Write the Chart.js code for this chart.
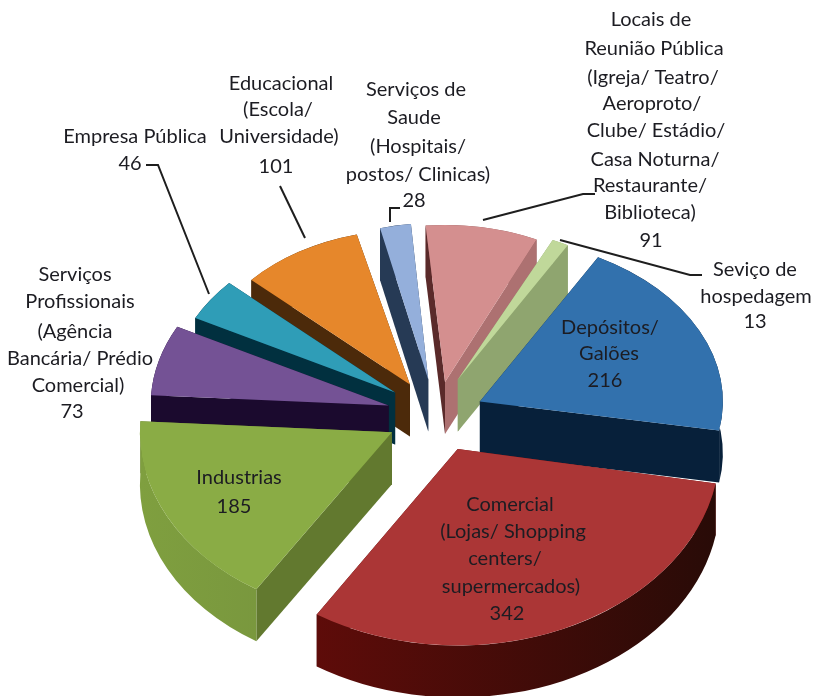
<!DOCTYPE html>
<html><head><meta charset="utf-8">
<style>html,body{margin:0;padding:0;background:#fff}canvas{display:block}</style>
<script src="https://cdn.jsdelivr.net/npm/chart.js@4"></script>
</head><body><canvas id="c" width="816" height="696"></canvas>
<script>
const categories = ["Locais de Reunião Pública","Seviço de hospedagem","Depósitos/ Galões","Comercial","Industrias","Serviços Profissionais","Empresa Pública","Educacional","Serviços de Saude"];
const values = [91,13,216,342,185,73,46,101,28];
const topColors = ["#d48f8f","#c0d89a","#3271ad","#ab3636","#8aac45","#745295","#2f9db7","#e6872b","#94afdb"];
const leftCut = ["#5a2a2a","#8fa56f","#0a2540","#6e0c0a","#62792f","#1b0a2e","#01303f","#4c2a0a","#263a55"];
const rightCut = ["#ad7171","#8fa56f","#07203a","#4a0c08","#62792f","#1b0a2e","#01303f","#4c2a0a","#263a55"];
const wallFrom = ["#8a5656","#8fa56f","#07203a","#6e0c0a","#7f9f3f","#1b0a2e","#01303f","#4c2a0a","#263a55"];
const wallTo = ["#8a5656","#8fa56f","#07203a","#280b07","#67803a","#1b0a2e","#01303f","#4c2a0a","#263a55"];
const sliceOffset = [41,57,53,64,45,45,45,43,40];
const nudgeX = [6,0,0,0,0,0,0,0,3];
const nudgeY = [0,3,6,-6,6,3,0,0,0];
const sliceRadius = [218,226,243,262,252,238,225,215,195];
const sliceTilt = [.72,.68,.68,.75,.74,.72,.72,.72,.8];
const drawOrder = [8,0,1,7,6,5,2,4,3];
const labelText = [
 ["Locais de","Reunião Pública","(Igreja/ Teatro/","Aeroproto/","Clube/ Estádio/","Casa Noturna/","Restaurante/","Biblioteca)","91"],
 ["Seviço de","hospedagem","13"],
 ["Depósitos/","Galões","216"],
 ["Comercial","(Lojas/ Shopping","centers/","supermercados)","342"],
 ["Industrias","185"],
 ["Serviços","Profissionais","(Agência","Bancária/ Prédio","Comercial)","73"],
 ["Empresa Pública","46"],
 ["Educacional","(Escola/","Universidade)","101"],
 ["Serviços de","Saude","(Hospitais/","postos/ Clinicas)","28"]
];
const labelX = [
 [651,654,653,652,656,655,650,650,651],[755,756,755],[610,609,605],[510,513,505,511,507],[239,234],
 [75,80,75,80,78,72],[135,130],[281,278,279,276],[416,414,418,418,414]
];
const labelY = [
 [20,49,78,104,131,160,186,213,241],[270,297,322],[328,354,381],[505,532,559,587,614],[478,507],
 [275,302,332,359,386,412],[137,164],[84,110,137,167],[90,118,147,175,201]
];
const leaders = [
 [[595,194],[583,194],[483,220]],[[702,275],[690,275],[560,240]],
 [[146,165],[158,165],[209,294]],[[280,186],[305,238]],[[400,208],[390,208],[390,222]]
];
const pieCenterX = 432, pieCenterY = 411, pieDepth = 52;

const pie3d = {
 id:'pie3d',
 beforeDatasetsDraw(chart){
  const ctx = chart.ctx, arcs = chart.getDatasetMeta(0).data;
  drawOrder.forEach(i=>{
   const arc = arcs[i], s = arc.startAngle, e = arc.endAngle, m=(s+e)/2;
   const R = sliceRadius[i], k = sliceTilt[i], off = sliceOffset[i];
   const ax = pieCenterX+nudgeX[i]+Math.cos(m)*off, ay = pieCenterY+nudgeY[i]+Math.sin(m)*off*k;
   const pt = a=>[ax+R*Math.cos(a), ay+k*R*Math.sin(a)];
   const [sx,sy]=pt(s), [ex,ey]=pt(e);
   const grad = ctx.createLinearGradient(ax-R,0,ax+R,0);
   grad.addColorStop(0,wallFrom[i]); grad.addColorStop(1,wallTo[i]);
   const faces = [
    {y:(sy+ay)/2, c:leftCut[i], p:()=>{ctx.moveTo(ax,ay);ctx.lineTo(sx,sy);ctx.lineTo(sx,sy+pieDepth);ctx.lineTo(ax,ay+pieDepth);ctx.closePath();}},
    {y:(ey+ay)/2, c:rightCut[i], p:()=>{ctx.moveTo(ax,ay);ctx.lineTo(ex,ey);ctx.lineTo(ex,ey+pieDepth);ctx.lineTo(ax,ay+pieDepth);ctx.closePath();}},
    {y:ay+k*R*Math.sin(m), c:grad, p:()=>{ctx.ellipse(ax,ay,R,k*R,0,s,e);ctx.ellipse(ax,ay+pieDepth,R,k*R,0,e,s,true);ctx.closePath();}}
   ].sort((a,b)=>a.y-b.y);
   faces.forEach(f=>{ctx.beginPath();f.p();ctx.fillStyle=f.c;ctx.fill();});
   ctx.save();
   ctx.translate(ax,ay);ctx.scale(1,k);ctx.translate(-arc.x,-arc.y);
   arc.outerRadius = R;
   arc.draw(ctx);
   ctx.restore();
  });
  return false;
 },
 afterDraw(chart){
  const ctx = chart.ctx;
  ctx.save();
  ctx.strokeStyle='#1e1e1e';ctx.lineWidth=2;
  leaders.forEach(l=>{ctx.beginPath();l.forEach((p,j)=>j?ctx.lineTo(p[0],p[1]):ctx.moveTo(p[0],p[1]));ctx.stroke();});
  ctx.font='20px Lato';ctx.fillStyle='#1c1c22';ctx.textAlign='center';ctx.textBaseline='middle';
  labelText.forEach((lines,i)=>lines.forEach((t,j)=>ctx.fillText(t,labelX[i][j],labelY[i][j])));
  ctx.restore();
 }
};
new Chart(document.getElementById('c'),{
 type:'pie',
 data:{labels:categories,datasets:[{data:values,backgroundColor:topColors,borderWidth:0}]},
 options:{responsive:false,animation:false,rotation:-5.1,
  plugins:{legend:{display:false},tooltip:{enabled:false}}},
 plugins:[pie3d]
});
</script></body></html>
